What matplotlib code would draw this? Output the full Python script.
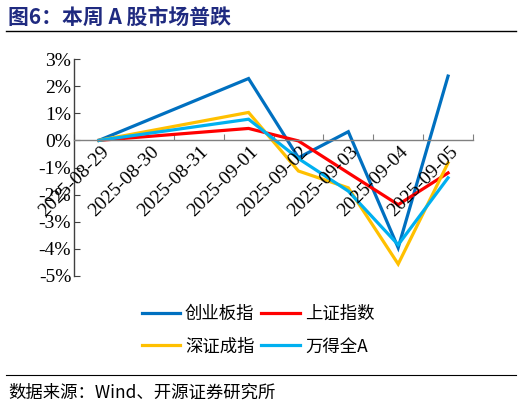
import numpy as np
import matplotlib
matplotlib.use("Agg")
import matplotlib.pyplot as plt
from matplotlib.lines import Line2D

dates = ["2025-08-29", "2025-08-30", "2025-08-31", "2025-09-01",
         "2025-09-02", "2025-09-03", "2025-09-04", "2025-09-05"]
chinext = [0.0, None, None, 2.28, -0.64, 0.32, -3.96, 2.37]
sse = [0.0, None, None, 0.44, -0.02, -1.20, -2.37, -1.20]
szse = [0.0, None, None, 1.03, -1.13, -1.75, -4.56, -0.83]
wind_a = [0.0, None, None, 0.78, -0.67, -1.87, -3.85, -1.38]
series_names = ["创业板指", "上证指数", "深证成指", "万得全A"]
colors = ["#0070C0", "#FF0000", "#FFC000", "#00B0F0"]
yticks = [3, 2, 1, 0, -1, -2, -3, -4, -5]

serif = ["Liberation Serif", "Noto Sans CJK SC"]
cjk = ["Noto Sans CJK SC", "Liberation Serif"]

fig = plt.figure(figsize=(5.22, 4.05), dpi=100)
ax = fig.add_axes([74/522, 1-276/405, (473-74)/522, (276-59)/405])

x_all = np.arange(len(dates))
for vals, name, c in zip([chinext, sse, szse, wind_a], series_names, colors):
    xs = [x for x, v in zip(x_all, vals) if v is not None]
    ys = [v for v in vals if v is not None]
    ax.plot(xs, ys, color=c, lw=2.3, label=name, solid_joinstyle="miter")

ax.set_xlim(-0.5, len(dates)-0.5)
ax.set_ylim(-5, 3)
ax.set_yticks(yticks)
ax.set_yticklabels([f"{t}%" for t in yticks], fontsize=14, family=serif)
for s in ["top", "right"]:
    ax.spines[s].set_visible(False)
ax.spines["bottom"].set_position(("data", 0))
ax.spines["bottom"].set_color("#808080")
ax.spines["bottom"].set_linewidth(1.0)
ax.spines["left"].set_color("#404040")
ax.spines["left"].set_linewidth(1.0)
ax.tick_params(axis="y", direction="in", length=4, color="#404040", pad=2)
ax.set_xticks(np.arange(-0.5, len(dates)+0.5, 1))
ax.set_xticklabels([])
ax.tick_params(axis="x", direction="in", length=4, color="#808080")
for i, d in enumerate(dates):
    ax.annotate(d, xy=(i, 0), xycoords="data", xytext=(1, -2), textcoords="offset points",
                rotation=45, ha="right", va="top", rotation_mode="anchor",
                fontsize=14, family=serif)

# legend filled column-wise: reorder so rows read 创业板指/上证指数, 深证成指/万得全A
order = [0, 2, 1, 3]
handles = [Line2D([], [], color=colors[k], lw=2.3) for k in order]
labels = [series_names[k] for k in order]
fig.legend(handles, labels, loc="center", bbox_to_anchor=(258/522, 1-330/405),
           ncol=2, frameon=False, prop={"family": cjk, "size": 12.5},
           handlelength=2.2, handletextpad=0.3, columnspacing=0.4, labelspacing=0.85)

fig.text(8/522, 1-17/405, "图6：本周 A 股市场普跌", fontsize=15, fontweight="bold",
         color="#1F2A80", family=cjk, ha="left", va="center")
fig.add_artist(Line2D([6/522, 516/522], [1-31/405, 1-31/405], color="black", lw=1.0))
fig.add_artist(Line2D([6/522, 516/522], [1-375/405, 1-375/405], color="black", lw=0.8))
fig.text(8/522, 1-393/405, "数据来源：Wind、开源证券研究所", fontsize=12.5,
         color="black", family=cjk, ha="left", va="center")

fig.savefig("out.png", dpi=100)
